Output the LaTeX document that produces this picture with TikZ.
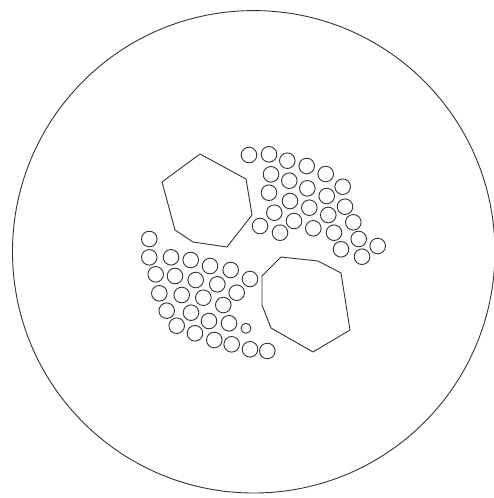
\documentclass[tikz,border=0pt]{standalone}
\usepackage{tikz}
\tikzset{
  rim/.style={draw=black!80, line width=0.9pt},
  bead/.style={draw=black!80, line width=0.9pt, fill=white},
  plate/.style={draw=black!80, line width=0.9pt, line join=round},
}
\begin{document}
\begin{tikzpicture}[x=1pt, y=-1pt]
\useasboundingbox (0,0) rectangle (494,498);
\draw[rim] (253.7,251.8) circle (241.2);
\draw[plate] (200,154) -- (246,179) -- (252,215) -- (227,247) -- (193,242) -- (175,230) -- (162,182) -- cycle;
\draw[plate] (281,257) -- (318,261) -- (341,273) -- (350,330) -- (313,352) -- (271,328) -- (262,305) -- (262,276) -- cycle;
\draw[bead] (249.0,155.0) circle (7.8);
\draw[bead] (269.0,154.3) circle (7.8);
\draw[bead] (287.3,160.7) circle (7.8);
\draw[bead] (306.7,166.0) circle (7.8);
\draw[bead] (325.7,174.0) circle (7.8);
\draw[bead] (342.7,186.7) circle (7.8);
\draw[bead] (271.0,174.3) circle (7.8);
\draw[bead] (289.3,180.7) circle (7.8);
\draw[bead] (307.3,188.3) circle (7.8);
\draw[bead] (326.7,196.0) circle (7.8);
\draw[bead] (345.0,206.7) circle (7.8);
\draw[bead] (269.0,192.7) circle (7.8);
\draw[bead] (290.0,201.0) circle (7.8);
\draw[bead] (309.3,207.7) circle (7.8);
\draw[bead] (328.3,215.0) circle (7.8);
\draw[bead] (353.3,222.3) circle (7.8);
\draw[bead] (274.3,212.7) circle (7.8);
\draw[bead] (294.0,221.0) circle (7.8);
\draw[bead] (313.3,228.3) circle (7.8);
\draw[bead] (334.0,232.7) circle (7.8);
\draw[bead] (358.7,239.0) circle (7.8);
\draw[bead] (377.7,246.0) circle (7.8);
\draw[bead] (260.0,226.0) circle (7.8);
\draw[bead] (280.0,232.7) circle (7.8);
\draw[bead] (341.0,249.3) circle (7.8);
\draw[bead] (362.0,256.7) circle (7.8);
\draw[bead] (149.3,239.0) circle (7.8);
\draw[bead] (149.3,257.3) circle (7.8);
\draw[bead] (171.0,257.3) circle (7.8);
\draw[bead] (190.7,260.0) circle (7.8);
\draw[bead] (210.0,266.0) circle (7.8);
\draw[bead] (230.7,270.0) circle (7.8);
\draw[bead] (250.0,279.0) circle (7.8);
\draw[bead] (155.7,274.3) circle (7.8);
\draw[bead] (175.0,276.0) circle (7.8);
\draw[bead] (195.7,280.0) circle (7.8);
\draw[bead] (217.3,284.3) circle (7.8);
\draw[bead] (236.7,292.7) circle (7.8);
\draw[bead] (159.3,293.3) circle (7.8);
\draw[bead] (181.7,295.0) circle (7.8);
\draw[bead] (203.3,297.7) circle (7.8);
\draw[bead] (223.3,305.0) circle (7.8);
\draw[bead] (166.7,310.7) circle (7.8);
\draw[bead] (191.0,312.7) circle (7.8);
\draw[bead] (209.0,321.0) circle (7.8);
\draw[bead] (229.0,323.3) circle (7.8);
\draw[bead] (246.0,328.3) circle (5.0);
\draw[bead] (176.7,325.7) circle (7.8);
\draw[bead] (195.0,333.3) circle (7.8);
\draw[bead] (214.3,340.0) circle (7.8);
\draw[bead] (231.7,344.3) circle (7.8);
\draw[bead] (250.0,349.3) circle (7.8);
\draw[bead] (267.3,351.0) circle (7.8);
\end{tikzpicture}
\end{document}
